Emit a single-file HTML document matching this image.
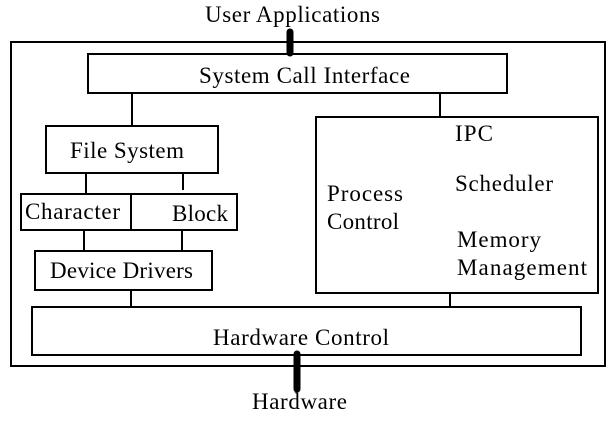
<!DOCTYPE html>
<html><head><style>html,body{margin:0;padding:0;background:#fff}svg{display:block}text{font-family:"Liberation Serif",serif;font-size:23px;fill:#000}</style></head><body>
<svg width="613" height="424" viewBox="0 0 613 424" xmlns="http://www.w3.org/2000/svg">
<g fill="none" stroke="#000" stroke-width="2">
<rect x="11" y="42" width="594" height="324"/>
<rect x="88" y="54" width="419" height="39"/>
<rect x="46" y="126" width="172" height="47"/>
<rect x="21" y="194" width="216" height="36"/>
<line x1="131" y1="194" x2="131" y2="230"/>
<rect x="35" y="251" width="177" height="39"/>
<rect x="316" y="117" width="282" height="176"/>
<rect x="32" y="307" width="549" height="48"/>
<line x1="132" y1="93" x2="132" y2="126"/>
<line x1="440" y1="93" x2="440" y2="117"/>
<line x1="86" y1="173" x2="86" y2="194"/>
<line x1="183" y1="173" x2="183" y2="190"/>
<line x1="84" y1="230" x2="84" y2="251"/>
<line x1="182" y1="230" x2="182" y2="251"/>
<line x1="131" y1="290" x2="131" y2="307"/>
<line x1="450" y1="293" x2="450" y2="307"/>
</g>
<g stroke="#000" stroke-width="7" stroke-linecap="round">
<line x1="290" y1="32" x2="290" y2="53"/>
<line x1="297" y1="354" x2="297" y2="389"/>
</g>
<text x="205" y="22" textLength="175">User Applications</text>
<text x="199" y="83" textLength="211">System Call Interface</text>
<text x="70" y="158" textLength="114">File System</text>
<text x="25" y="219" textLength="95">Character</text>
<text x="172" y="221" textLength="56">Block</text>
<text x="50" y="278" textLength="143">Device Drivers</text>
<text x="455" y="141" textLength="38">IPC</text>
<text x="327" y="201" textLength="76">Process</text>
<text x="327" y="229" textLength="72">Control</text>
<text x="455" y="191" textLength="98">Scheduler</text>
<text x="457" y="247" textLength="84">Memory</text>
<text x="457" y="275" textLength="130">Management</text>
<text x="213" y="345" textLength="176">Hardware Control</text>
<text x="252" y="409" textLength="95">Hardware</text>
</svg>
</body></html>
